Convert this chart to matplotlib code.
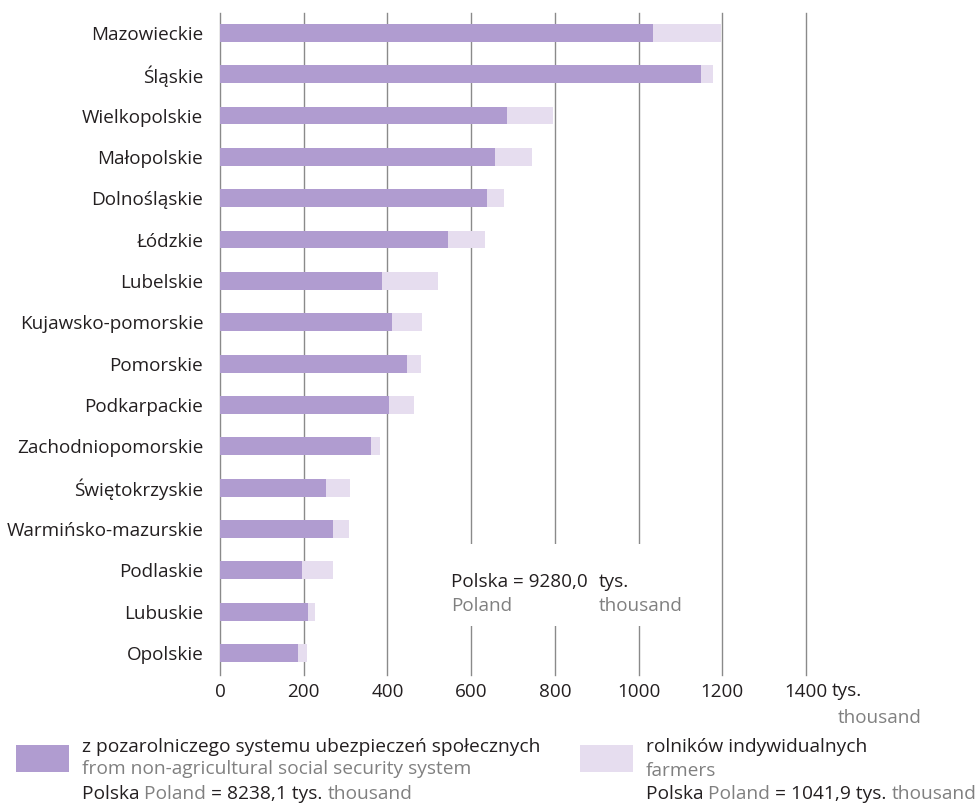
import matplotlib
matplotlib.use("Agg")
import matplotlib.pyplot as plt
from matplotlib.patches import Rectangle

plt.rcParams['font.family'] = ['Open Sans', 'DejaVu Sans']

# województwa, od dołu do góry
regions = ['Opolskie', 'Lubuskie', 'Podlaskie', 'Warmińsko-mazurskie',
           'Świętokrzyskie', 'Zachodniopomorskie', 'Podkarpackie', 'Pomorskie',
           'Kujawsko-pomorskie', 'Lubelskie', 'Łódzkie', 'Dolnośląskie',
           'Małopolskie', 'Wielkopolskie', 'Śląskie', 'Mazowieckie']
# z pozarolniczego systemu (tys.)
nonagri = [187, 211, 195, 270, 253, 360, 403, 446,
           412, 387, 544, 639, 656, 685, 1148, 1034]
# rolników indywidualnych (tys.)
farmers = [22, 16, 75, 39, 57, 22, 61, 35,
           71, 134, 88, 40, 89, 110, 30, 162]
xticks = [0, 200, 400, 600, 800, 1000, 1200, 1400]

DARK = '#b09cd0'
LIGHT = '#e6ddef'
GRID = '#8a8a8a'
TXT = '#231f20'
GRAY = '#808080'
FS = 13.6   # etykiety
LFS = 13.8  # legenda

W, H = 978, 805
fig = plt.figure(figsize=(W / 100, H / 100), dpi=100)
ax = fig.add_axes([220 / W, 1 - 675 / H, (806 - 220) / W, (675 - 13) / H])

ypos = list(range(len(regions)))
ax.barh(ypos, nonagri, height=0.43, color=DARK, zorder=3)
ax.barh(ypos, farmers, left=nonagri, height=0.43, color=LIGHT, zorder=3)

ax.set_xlim(0, 1400)
ax.set_ylim(-0.53, len(regions) - 0.52)
ax.set_xticks(xticks)
ax.set_xticklabels([str(v) for v in xticks], fontsize=FS, color=TXT)
ax.set_yticks(ypos)
ax.set_yticklabels(regions, fontsize=FS, color=TXT)
ax.tick_params(axis='both', length=0)
ax.tick_params(axis='y', pad=12)
ax.tick_params(axis='x', pad=6)
for s in ax.spines.values():
    s.set_visible(False)
for v in xticks:
    ax.axvline(v, color=GRID, lw=1.0, zorder=1, clip_on=False)

# biała ramka pod napisem o sumie
ax.add_patch(Rectangle((420, 0.66), 760, 1.98, facecolor='white',
                       edgecolor='none', zorder=2))
ax.text(552, 1.72, 'Polska = 9280,0', fontsize=FS, color=TXT, zorder=4,
        va='center', ha='left')
ax.text(906, 1.72, 'tys.', fontsize=FS, color=TXT, zorder=4,
        va='center', ha='left')
ax.text(552, 1.15, 'Poland', fontsize=FS, color=GRAY, zorder=4,
        va='center', ha='left')
ax.text(906, 1.15, 'thousand', fontsize=FS, color=GRAY, zorder=4,
        va='center', ha='left')

# jednostka osi
fig.text(832 / W, 1 - 691 / H, 'tys.', fontsize=FS, color=TXT,
         ha='left', va='center')
fig.text(922 / W, 1 - 718 / H, 'thousand', fontsize=FS, color=GRAY,
         ha='right', va='center')


def chain(x, y, parts, size=LFS):
    t = fig.text(x, y, parts[0][0], color=parts[0][1], fontsize=size,
                 ha='left', va='center')
    for s, c in parts[1:]:
        t = ax.annotate(s, xy=(1, 0), xycoords=t, ha='left', va='bottom',
                        color=c, fontsize=size, annotation_clip=False)
    return t


# legenda
fig.patches.append(Rectangle((16 / W, 1 - 772 / H), 53 / W, 27 / H,
                             transform=fig.transFigure, facecolor=DARK,
                             edgecolor='none'))
fig.patches.append(Rectangle((580 / W, 1 - 772 / H), 53 / W, 27 / H,
                             transform=fig.transFigure, facecolor=LIGHT,
                             edgecolor='none'))

fig.text(82 / W, 1 - 747 / H, 'z pozarolniczego systemu ubezpieczeń społecznych',
         fontsize=LFS, color=TXT, va='center')
fig.text(82 / W, 1 - 769 / H, 'from non-agricultural social security system',
         fontsize=LFS, color=GRAY, va='center')
chain(82 / W, 1 - 794 / H, [('Polska ', TXT), ('Poland ', GRAY),
                            ('= 8238,1 tys. ', TXT), ('thousand', GRAY)])

fig.text(646 / W, 1 - 747 / H, 'rolników indywidualnych',
         fontsize=LFS, color=TXT, va='center')
fig.text(646 / W, 1 - 771 / H, 'farmers', fontsize=LFS, color=GRAY, va='center')
chain(646 / W, 1 - 794 / H, [('Polska ', TXT), ('Poland ', GRAY),
                             ('= 1041,9 tys. ', TXT), ('thousand', GRAY)])

fig.savefig('out.png', dpi=100, facecolor='white')
